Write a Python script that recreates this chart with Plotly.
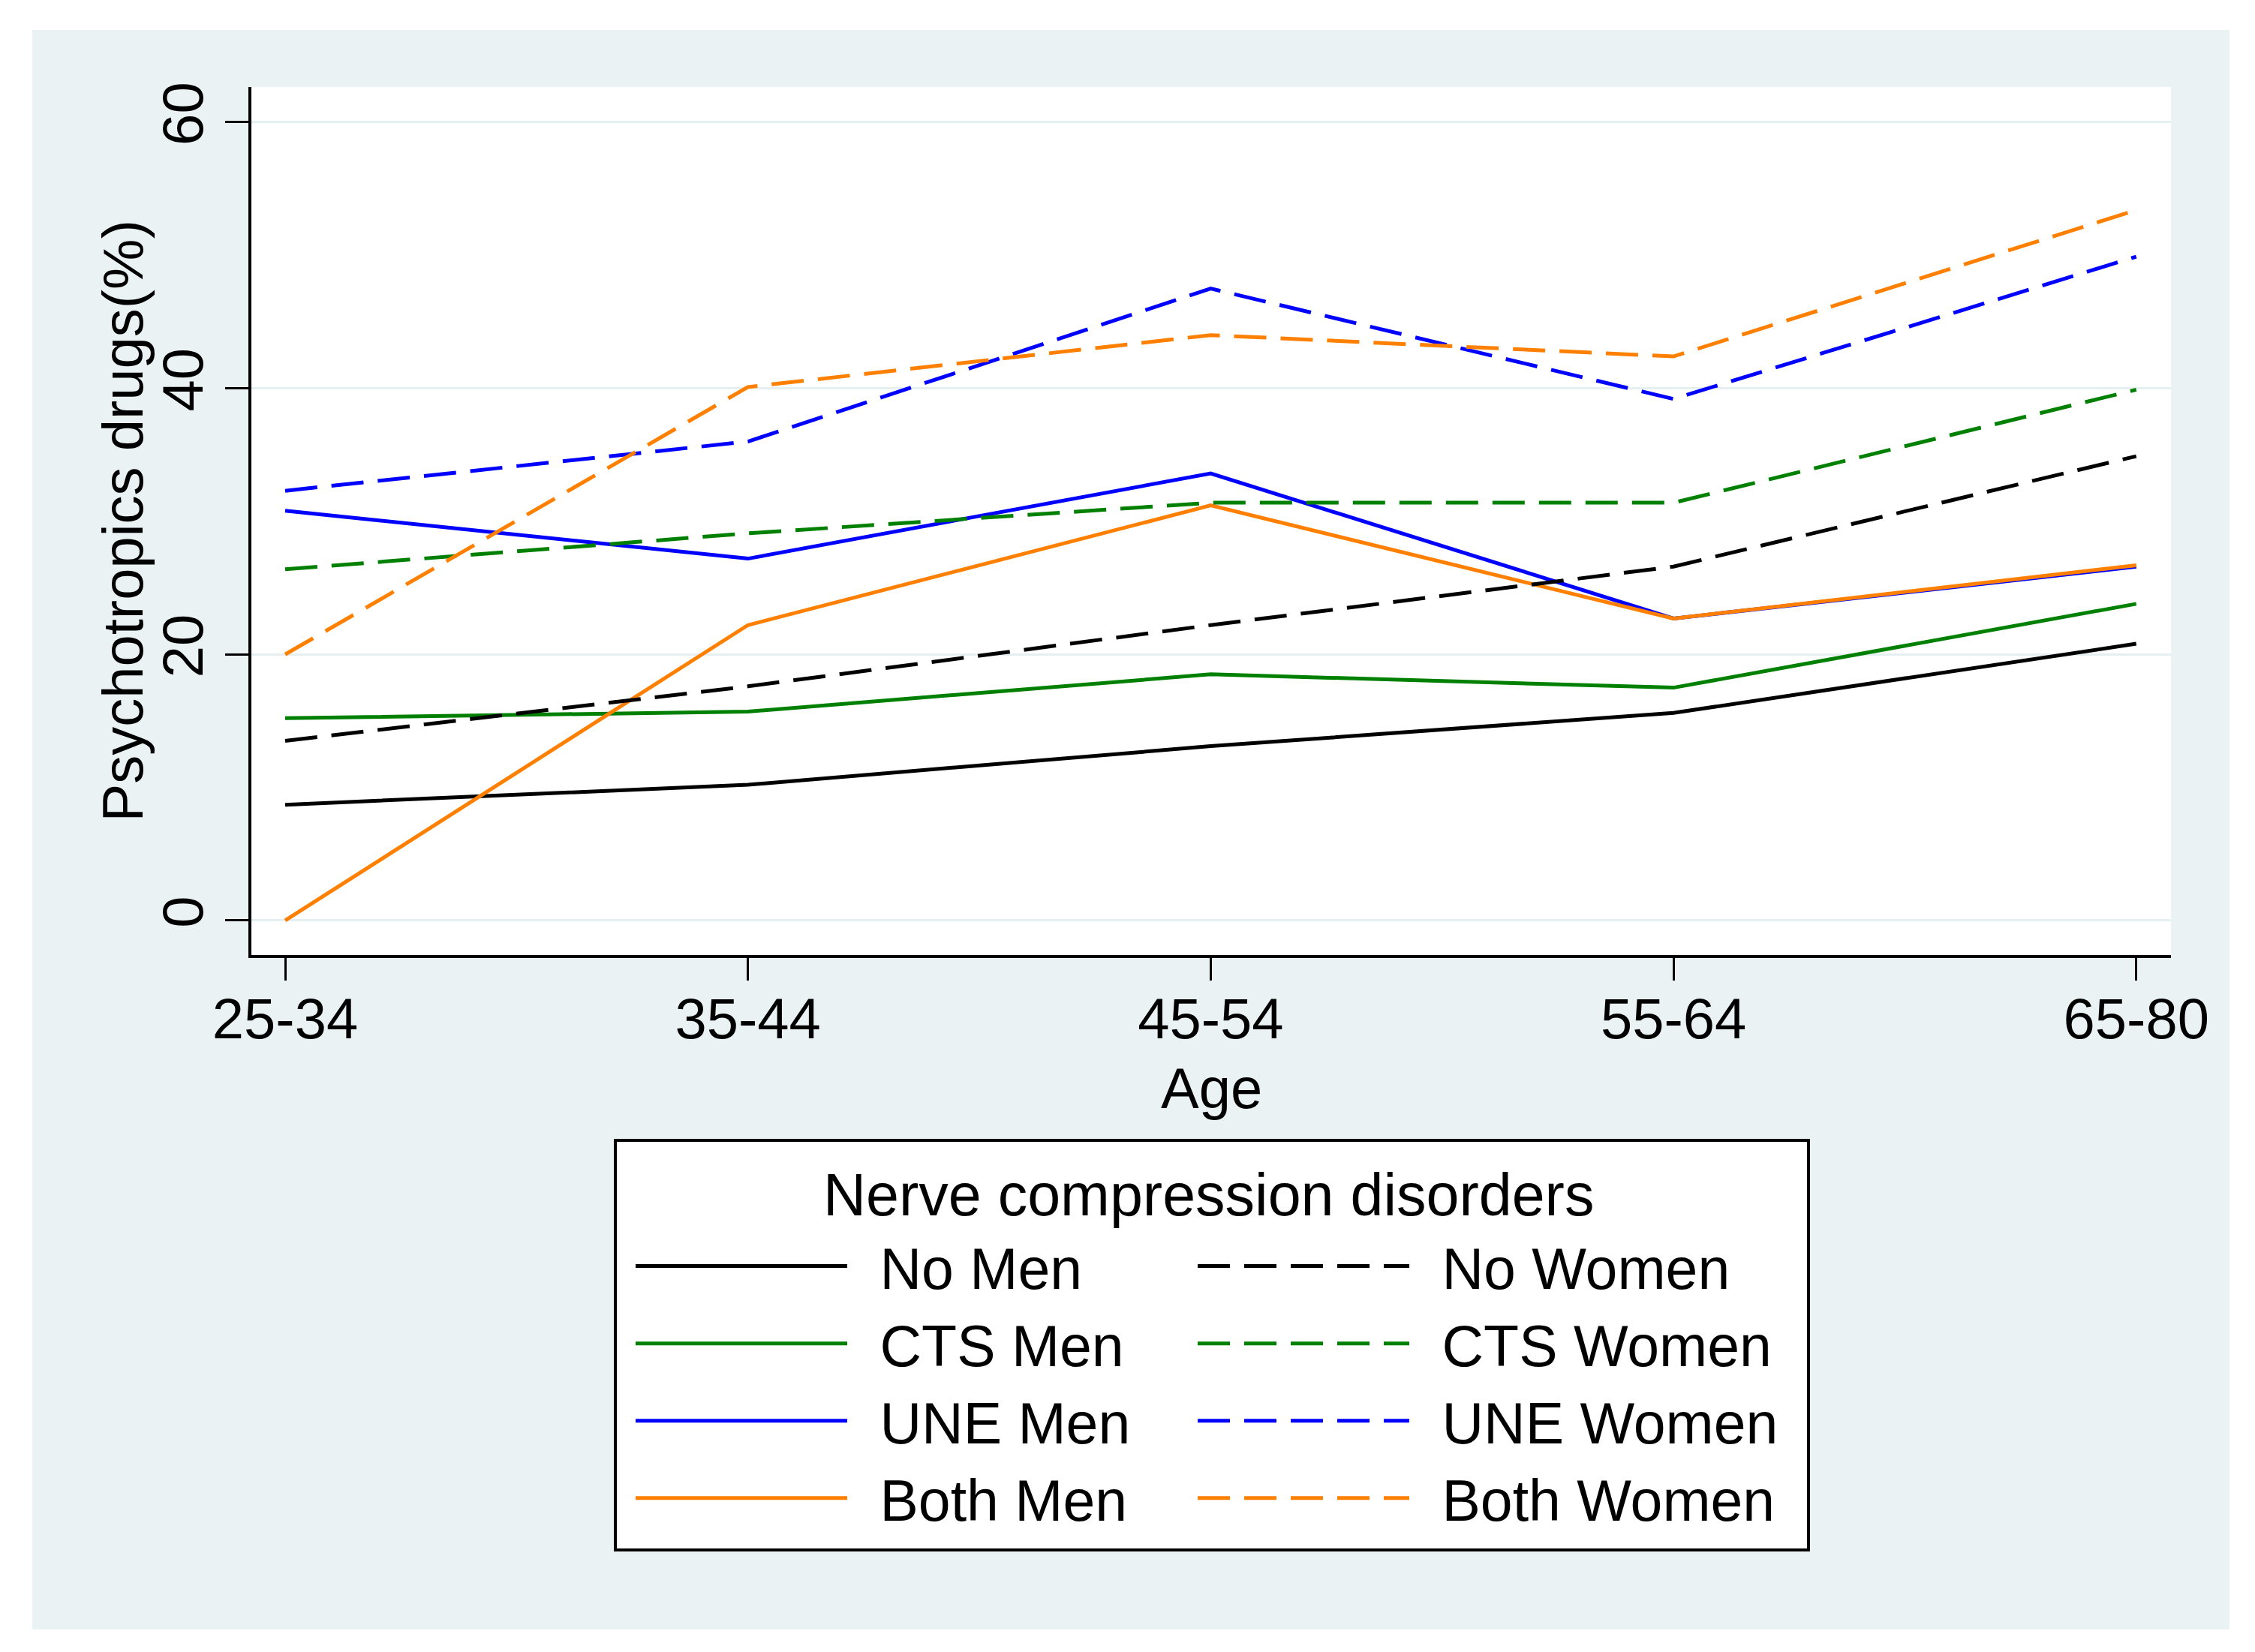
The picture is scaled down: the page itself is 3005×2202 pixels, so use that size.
import plotly.graph_objects as go

# ---------------- data ----------------
age_groups = ["25-34", "35-44", "45-54", "55-64", "65-80"]
x_pos = [0, 1, 2, 3, 4]

no_men = [8.7, 10.2, 13.1, 15.6, 20.8]
cts_men = [15.2, 15.7, 18.5, 17.5, 23.8]
une_men = [30.8, 27.2, 33.6, 22.7, 26.6]
both_men = [0.0, 22.2, 31.2, 22.7, 26.7]

no_women = [13.5, 17.6, 22.2, 26.6, 34.9]
cts_women = [26.4, 29.1, 31.4, 31.4, 39.9]
une_women = [32.3, 36.0, 47.5, 39.2, 49.9]
both_women = [20.0, 40.1, 44.0, 42.4, 53.4]

y_ticks = [0, 20, 40, 60]

# ---------------- layout geometry (pixels) ----------------
W, H = 3005, 2202
PL, PR, PT, PB = 335, 2893, 116, 1273   # plot area
pw, ph = PR - PL, PB - PT


def px_x(p):
    return (p - PL) / pw


def px_y(p):
    return (PB - p) / ph


FONT = "Liberation Sans, Arial, sans-serif"
FS = 76
BG = "#EAF2F3"
DASH = "43px,19px"
GAP = "\u2002"  # spacing between legend line and label

series = [
    ("No Men", no_men, "#000000", "solid", "legend"),
    ("CTS Men", cts_men, "#008000", "solid", "legend"),
    ("UNE Men", une_men, "#0000FF", "solid", "legend"),
    ("Both Men", both_men, "#FF8000", "solid", "legend"),
    ("No Women", no_women, "#000000", DASH, "legend2"),
    ("CTS Women", cts_women, "#008000", DASH, "legend2"),
    ("UNE Women", une_women, "#0000FF", DASH, "legend2"),
    ("Both Women", both_women, "#FF8000", DASH, "legend2"),
]

fig = go.Figure()
for name, vals, color, dash, leg in series:
    fig.add_trace(go.Scatter(
        x=x_pos, y=vals, mode="lines", name=GAP + name,
        line=dict(color=color, width=5, dash=dash),
        legend=leg, showlegend=True,
    ))

legend_common = dict(
    xanchor="left", yanchor="top",
    bgcolor="rgba(0,0,0,0)", borderwidth=0,
    font=dict(family=FONT, size=77, color="black"),
    itemwidth=282, traceorder="normal",
    itemclick=False, itemdoubleclick=False,
)

fig.update_layout(
    width=W, height=H,
    paper_bgcolor="white", plot_bgcolor="rgba(0,0,0,0)",
    margin=dict(l=PL, r=W - PR, t=PT, b=H - PB, autoexpand=False),
    font=dict(family=FONT, size=FS, color="black"),
    showlegend=True,
    legend=dict(x=px_x(842), y=px_y(1631), **legend_common),
    legend2=dict(x=px_x(1591), y=px_y(1631), **legend_common),
    xaxis=dict(
        range=[-0.073, 4.075], tickmode="array", tickvals=x_pos, ticktext=age_groups,
        showgrid=False, zeroline=False,
        showline=True, linecolor="black", linewidth=4,
        ticks="outside", ticklen=30, tickwidth=3, tickcolor="black",
        ticklabelstandoff=-14,
        tickfont=dict(family=FONT, size=FS, color="black"),
    ),
    yaxis=dict(
        range=[-2.6, 62.65], tickmode="array", tickvals=y_ticks,
        showgrid=True, gridcolor="#E6EFF1", gridwidth=3,
        zeroline=False,
        showline=True, linecolor="black", linewidth=4,
        ticks="outside", ticklen=31, tickwidth=3, tickcolor="black",
        tickangle=-90,
        tickfont=dict(family=FONT, size=FS, color="black"),
    ),
    shapes=[
        dict(type="rect", xref="paper", yref="paper", layer="below",
             x0=px_x(43), x1=px_x(2971), y0=px_y(2172), y1=px_y(40),
             fillcolor=BG, line=dict(width=0)),
        dict(type="rect", xref="paper", yref="paper", layer="below",
             x0=0, x1=1, y0=0, y1=1,
             fillcolor="white", line=dict(width=0)),
        dict(type="rect", xref="paper", yref="paper", layer="below",
             x0=px_x(820), x1=px_x(2410), y0=px_y(2066), y1=px_y(1520),
             fillcolor="white", line=dict(color="black", width=4)),
    ],
    annotations=[
        dict(text="Psychotropics drugs(%)", xref="paper", yref="paper",
             x=px_x(163), y=0.5, textangle=-90, showarrow=False,
             xanchor="center", yanchor="middle",
             font=dict(family=FONT, size=FS, color="black")),
        dict(text="Age", xref="paper", yref="paper",
             x=0.5, y=px_y(1450), showarrow=False,
             xanchor="center", yanchor="middle",
             font=dict(family=FONT, size=FS, color="black")),
        dict(text="Nerve compression disorders", xref="paper", yref="paper",
             x=px_x(1610), y=px_y(1592), showarrow=False,
             xanchor="center", yanchor="middle",
             font=dict(family=FONT, size=79, color="black")),
    ],
)

fig.write_html("out.html", config={"displayModeBar": False},
               post_script="document.body.style.margin='0';")
